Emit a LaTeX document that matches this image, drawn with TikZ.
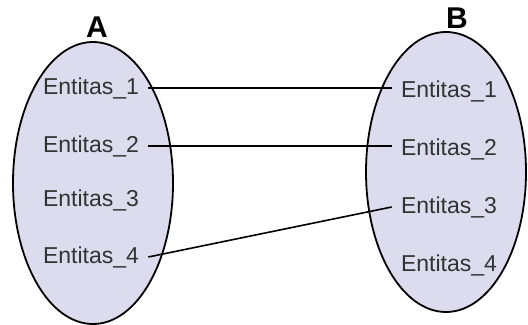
\documentclass[tikz,border=0pt]{standalone}
\usepackage{fontspec}
\setmainfont{Liberation Sans}
\usepackage{xcolor}
\usetikzlibrary{shapes.geometric}
\definecolor{setfill}{HTML}{DCDCEE}
\definecolor{entgray}{HTML}{333333}
\tikzset{
    setnode/.style = {draw, ellipse, fill=setfill, line width=0.9pt, inner sep=0em,
      minimum width=80pt},
    textnode/.style = {draw=none, fill=none, rectangle, inner sep=4.5pt, text=entgray,
      font=\fontsize{11.5}{13}\selectfont},
    titlenode/.style = {draw=none, inner sep=0em, font=\bfseries\fontsize{15}{17}\selectfont},
    connect/.style = {black, line width=0.8pt}
}
\begin{document}
\begin{tikzpicture}[x=0.5pt, y=-0.5pt]
    \useasboundingbox (0,0) rectangle (528,325);

    % the two sets
    \node [name=setA, setnode, minimum height=141pt] at (93,183) {};
    \node [name=setB, setnode, minimum height=140pt] at (446,172) {};
    \node [name=titleA, titlenode] at (97,27) {A};
    \node [name=titleB, titlenode] at (457,18) {B};

    % entities of A
    \node [name=a1, textnode] at (91,88) {Entitas\_1};
    \node [name=a2, textnode] at (91,146) {Entitas\_2};
    \node [name=a3, textnode] at (91,200) {Entitas\_3};
    \node [name=a4, textnode] at (91,257) {Entitas\_4};

    % entities of B
    \node [name=b1, textnode] at (449,91) {Entitas\_1};
    \node [name=b2, textnode] at (449,149) {Entitas\_2};
    \node [name=b3, textnode] at (449,207) {Entitas\_3};
    \node [name=b4, textnode] at (449,265) {Entitas\_4};

    \draw [connect] (a1.east) -- (a1.east -| b1.west);
    \draw [connect] (a2.east) -- (a2.east -| b2.west);
    \draw [connect] (a4.east) -- (b3.west);
\end{tikzpicture}
\end{document}
